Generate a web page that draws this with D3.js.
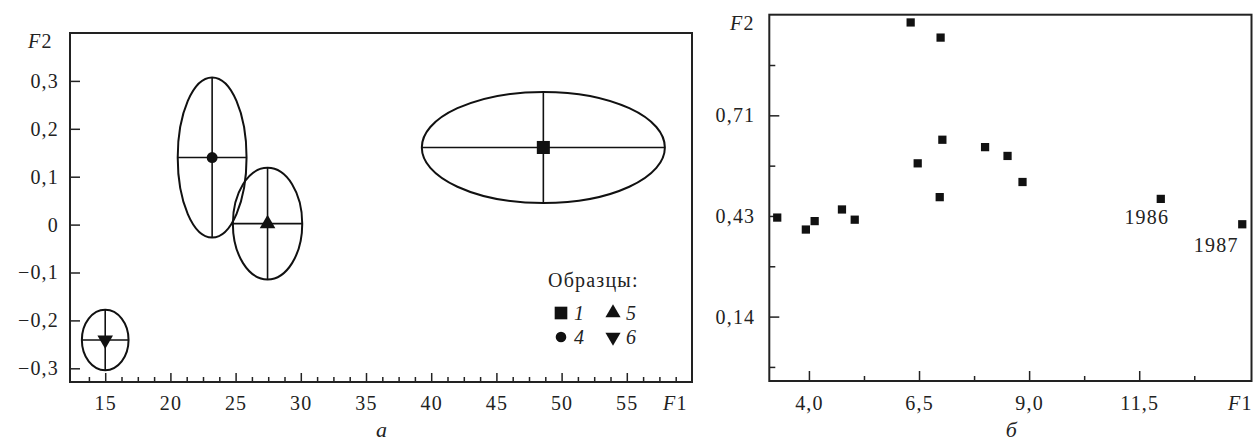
<!DOCTYPE html>
<html>
<head>
<meta charset="utf-8">
<script src="https://cdn.jsdelivr.net/npm/d3@7"></script>
<style>
  body { margin: 0; background: #fff; }
  svg { display: block; }
  svg text { font-family: "Liberation Serif", "Times New Roman", Tinos, "DejaVu Serif", serif !important; font-size: 20px; fill: #222; letter-spacing: 1.2px; }
  .tick line { stroke: #222; stroke-width: 1.5; }
</style>
</head>
<body>
<div id="vis"></div>
<script>
// ---- panel a: sample ellipses ----
var sampleNames = ['1', '4', '5', '6'];
var sampleShapes = ['square', 'circle', 'up', 'down'];
var sampleF1 = [48.6, 23.2, 27.45, 15.0];
var sampleF2 = [0.161, 0.14, 0.002, -0.241];
var sampleRadiusF1 = [9.32, 2.64, 2.66, 1.79];
var sampleRadiusF2 = [0.116, 0.167, 0.1165, 0.063];

var leftXTicks = [15, 20, 25, 30, 35, 40, 45, 50, 55];
var leftXLabels = ['15', '20', '25', '30', '35', '40', '45', '50', '55'];
var leftYTicks = [-0.3, -0.2, -0.1, 0, 0.1, 0.2, 0.3];
var leftYLabels = ['\u22120,3', '\u22120,2', '\u22120,1', '0', '0,1', '0,2', '0,3'];

// ---- panel б: yearly points ----
var yearF1 = [3.28, 3.93, 4.13, 4.75, 5.04, 6.31, 6.99, 6.47, 7.03, 6.97, 8.0, 8.51, 8.85, 11.99, 13.84];
var yearF2 = [0.424, 0.390, 0.414, 0.447, 0.418, 0.978, 0.935, 0.578, 0.645, 0.482, 0.624, 0.599, 0.525, 0.477, 0.405];
var yearLabels = ['', '', '', '', '', '', '', '', '', '', '', '', '', '1986', '1987'];

var rightXTicks = [4.0, 6.5, 9.0, 11.5];
var rightXLabels = ['4,0', '6,5', '9,0', '11,5'];
var rightXMinor = [5.25, 7.75, 10.25, 12.75];
var rightYTicks = [1 / 7, 3 / 7, 5 / 7];
var rightYLabels = ['0,14', '0,43', '0,71'];
var rightYMinor = [0, 2 / 7, 4 / 7, 6 / 7];

var width = 1253, height = 443;
var svg = d3.select('#vis').append('svg').attr('width', width).attr('height', height);

function symbolPath(shape, size) {
	if (shape === 'square') return d3.symbol(d3.symbolSquare, size)();
	if (shape === 'circle') return d3.symbol(d3.symbolCircle, size * 0.55)();
	return d3.symbol(d3.symbolTriangle, size * 0.62)();
}

function marker(g, shape, x, y, size) {
	g.append('path')
		.attr('d', symbolPath(shape, size))
		.attr('transform', 'translate(' + x + ',' + y + ')' + (shape === 'down' ? ' rotate(180)' : ''))
		.attr('fill', '#111');
}

function axisLabel(g, x, y, num, anchor) {
	var t = g.append('text').attr('x', x).attr('y', y).attr('text-anchor', anchor || 'start');
	t.append('tspan').attr('font-style', 'italic').text('F');
	t.append('tspan').text(num);
}

// ================= panel a =================
var xa = d3.scaleLinear().domain([12.3, 60]).range([70, 692]);
var ya = d3.scaleLinear().domain([-0.3286, 0.4]).range([382, 33]);
var ga = svg.append('g');

// bottom axis, ticks pointing inward
ga.append('g').attr('transform', 'translate(0,382)')
	.call(d3.axisBottom(xa).tickValues(d3.range(13.75, 59.9, 1.25).filter(v => v % 5 !== 0)).tickSize(-5).tickFormat(''))
	.call(g => g.select('.domain').remove());
ga.append('g').attr('transform', 'translate(0,382)')
	.call(d3.axisBottom(xa).tickValues(leftXTicks).tickSize(-9).tickPadding(14).tickFormat((d, i) => leftXLabels[i]))
	.call(g => g.select('.domain').remove())
	.call(g => g.selectAll('text').attr('fill', '#222'));

ga.append('g').attr('transform', 'translate(70,0)')
	.call(d3.axisLeft(ya).tickValues(leftYTicks).tickSize(-10).tickPadding(11).tickFormat((d, i) => leftYLabels[i]))
	.call(g => g.select('.domain').remove())
	.call(g => g.selectAll('text').attr('fill', '#222'));

ga.append('rect')
	.attr('x', xa.range()[0]).attr('y', ya.range()[1])
	.attr('width', xa.range()[1] - xa.range()[0]).attr('height', ya.range()[0] - ya.range()[1])
	.attr('fill', 'none').attr('stroke', '#222').attr('stroke-width', 2);

sampleNames.forEach(function (name, i) {
	var cx = xa(sampleF1[i]), cy = ya(sampleF2[i]);
	var rx = xa(sampleF1[i] + sampleRadiusF1[i]) - cx;
	var ry = cy - ya(sampleF2[i] + sampleRadiusF2[i]);
	var g = ga.append('g');
	g.append('ellipse').attr('cx', cx).attr('cy', cy).attr('rx', rx).attr('ry', ry)
		.attr('fill', 'none').attr('stroke', '#111').attr('stroke-width', 2);
	g.append('line').attr('x1', cx - rx).attr('x2', cx + rx).attr('y1', cy).attr('y2', cy)
		.attr('stroke', '#111').attr('stroke-width', 1.6);
	g.append('line').attr('x1', cx).attr('x2', cx).attr('y1', cy - ry).attr('y2', cy + ry)
		.attr('stroke', '#111').attr('stroke-width', 1.6);
	marker(g, sampleShapes[i], cx, cy, 170);
});

// legend
var leg = ga.append('g');
leg.append('text').attr('x', 548).attr('y', 287).text('Образцы:');
[[0, 0], [0, 1], [1, 0], [1, 1]].forEach(function (pos, i) {
	var lx = 561 + pos[0] * 52, ly = 313 + pos[1] * 24;
	marker(leg, sampleShapes[i], lx, ly, 160);
	leg.append('text').attr('x', lx + 13).attr('y', ly + 7).attr('font-style', 'italic').text(sampleNames[i]);
});

axisLabel(ga, 28, 48, '2');
axisLabel(ga, 663, 410, '1');
ga.append('text').attr('x', 382).attr('y', 437).attr('text-anchor', 'middle')
	.attr('font-style', 'italic').style('font-size', '22px').text('а');

// ================= panel б =================
var xb = d3.scaleLinear().domain([3.1, 14.05]).range([769.3, 1251.5]);
var yb = d3.scaleLinear().domain([-0.04, 1.0]).range([381, 14.7]);
var gb = svg.append('g');

gb.append('g').attr('transform', 'translate(0,381)')
	.call(d3.axisBottom(xb).tickValues(rightXMinor).tickSize(-5).tickFormat(''))
	.call(g => g.select('.domain').remove());
gb.append('g').attr('transform', 'translate(0,381)')
	.call(d3.axisBottom(xb).tickValues(rightXTicks).tickSize(-10).tickPadding(15).tickFormat((d, i) => rightXLabels[i]))
	.call(g => g.select('.domain').remove())
	.call(g => g.selectAll('text').attr('fill', '#222'));

gb.append('g').attr('transform', 'translate(769.3,0)')
	.call(d3.axisLeft(yb).tickValues(rightYMinor).tickSize(-6).tickFormat(''))
	.call(g => g.select('.domain').remove());
gb.append('g').attr('transform', 'translate(769.3,0)')
	.call(d3.axisLeft(yb).tickValues(rightYTicks).tickSize(-10).tickPadding(14).tickFormat((d, i) => rightYLabels[i]))
	.call(g => g.select('.domain').remove())
	.call(g => g.selectAll('text').attr('fill', '#222'));

gb.append('rect')
	.attr('x', xb.range()[0]).attr('y', yb.range()[1])
	.attr('width', xb.range()[1] - xb.range()[0]).attr('height', yb.range()[0] - yb.range()[1])
	.attr('fill', 'none').attr('stroke', '#222').attr('stroke-width', 2);

yearF1.forEach(function (v, i) {
	marker(gb, 'square', xb(v), yb(yearF2[i]), 68);
});

// year annotations under the last two points
gb.append('text').attr('x', xb(yearF1[13]) - 14).attr('y', yb(yearF2[13]) + 25)
	.attr('text-anchor', 'middle').text(yearLabels[13]);
gb.append('text').attr('x', xb(yearF1[14]) - 26).attr('y', yb(yearF2[14]) + 28)
	.attr('text-anchor', 'middle').text(yearLabels[14]);

axisLabel(gb, 730, 30, '2');
axisLabel(gb, 1228, 410, '1');
gb.append('text').attr('x', 1012).attr('y', 437).attr('text-anchor', 'middle')
	.attr('font-style', 'italic').style('font-size', '22px').text('б');
</script>
</body>
</html>
